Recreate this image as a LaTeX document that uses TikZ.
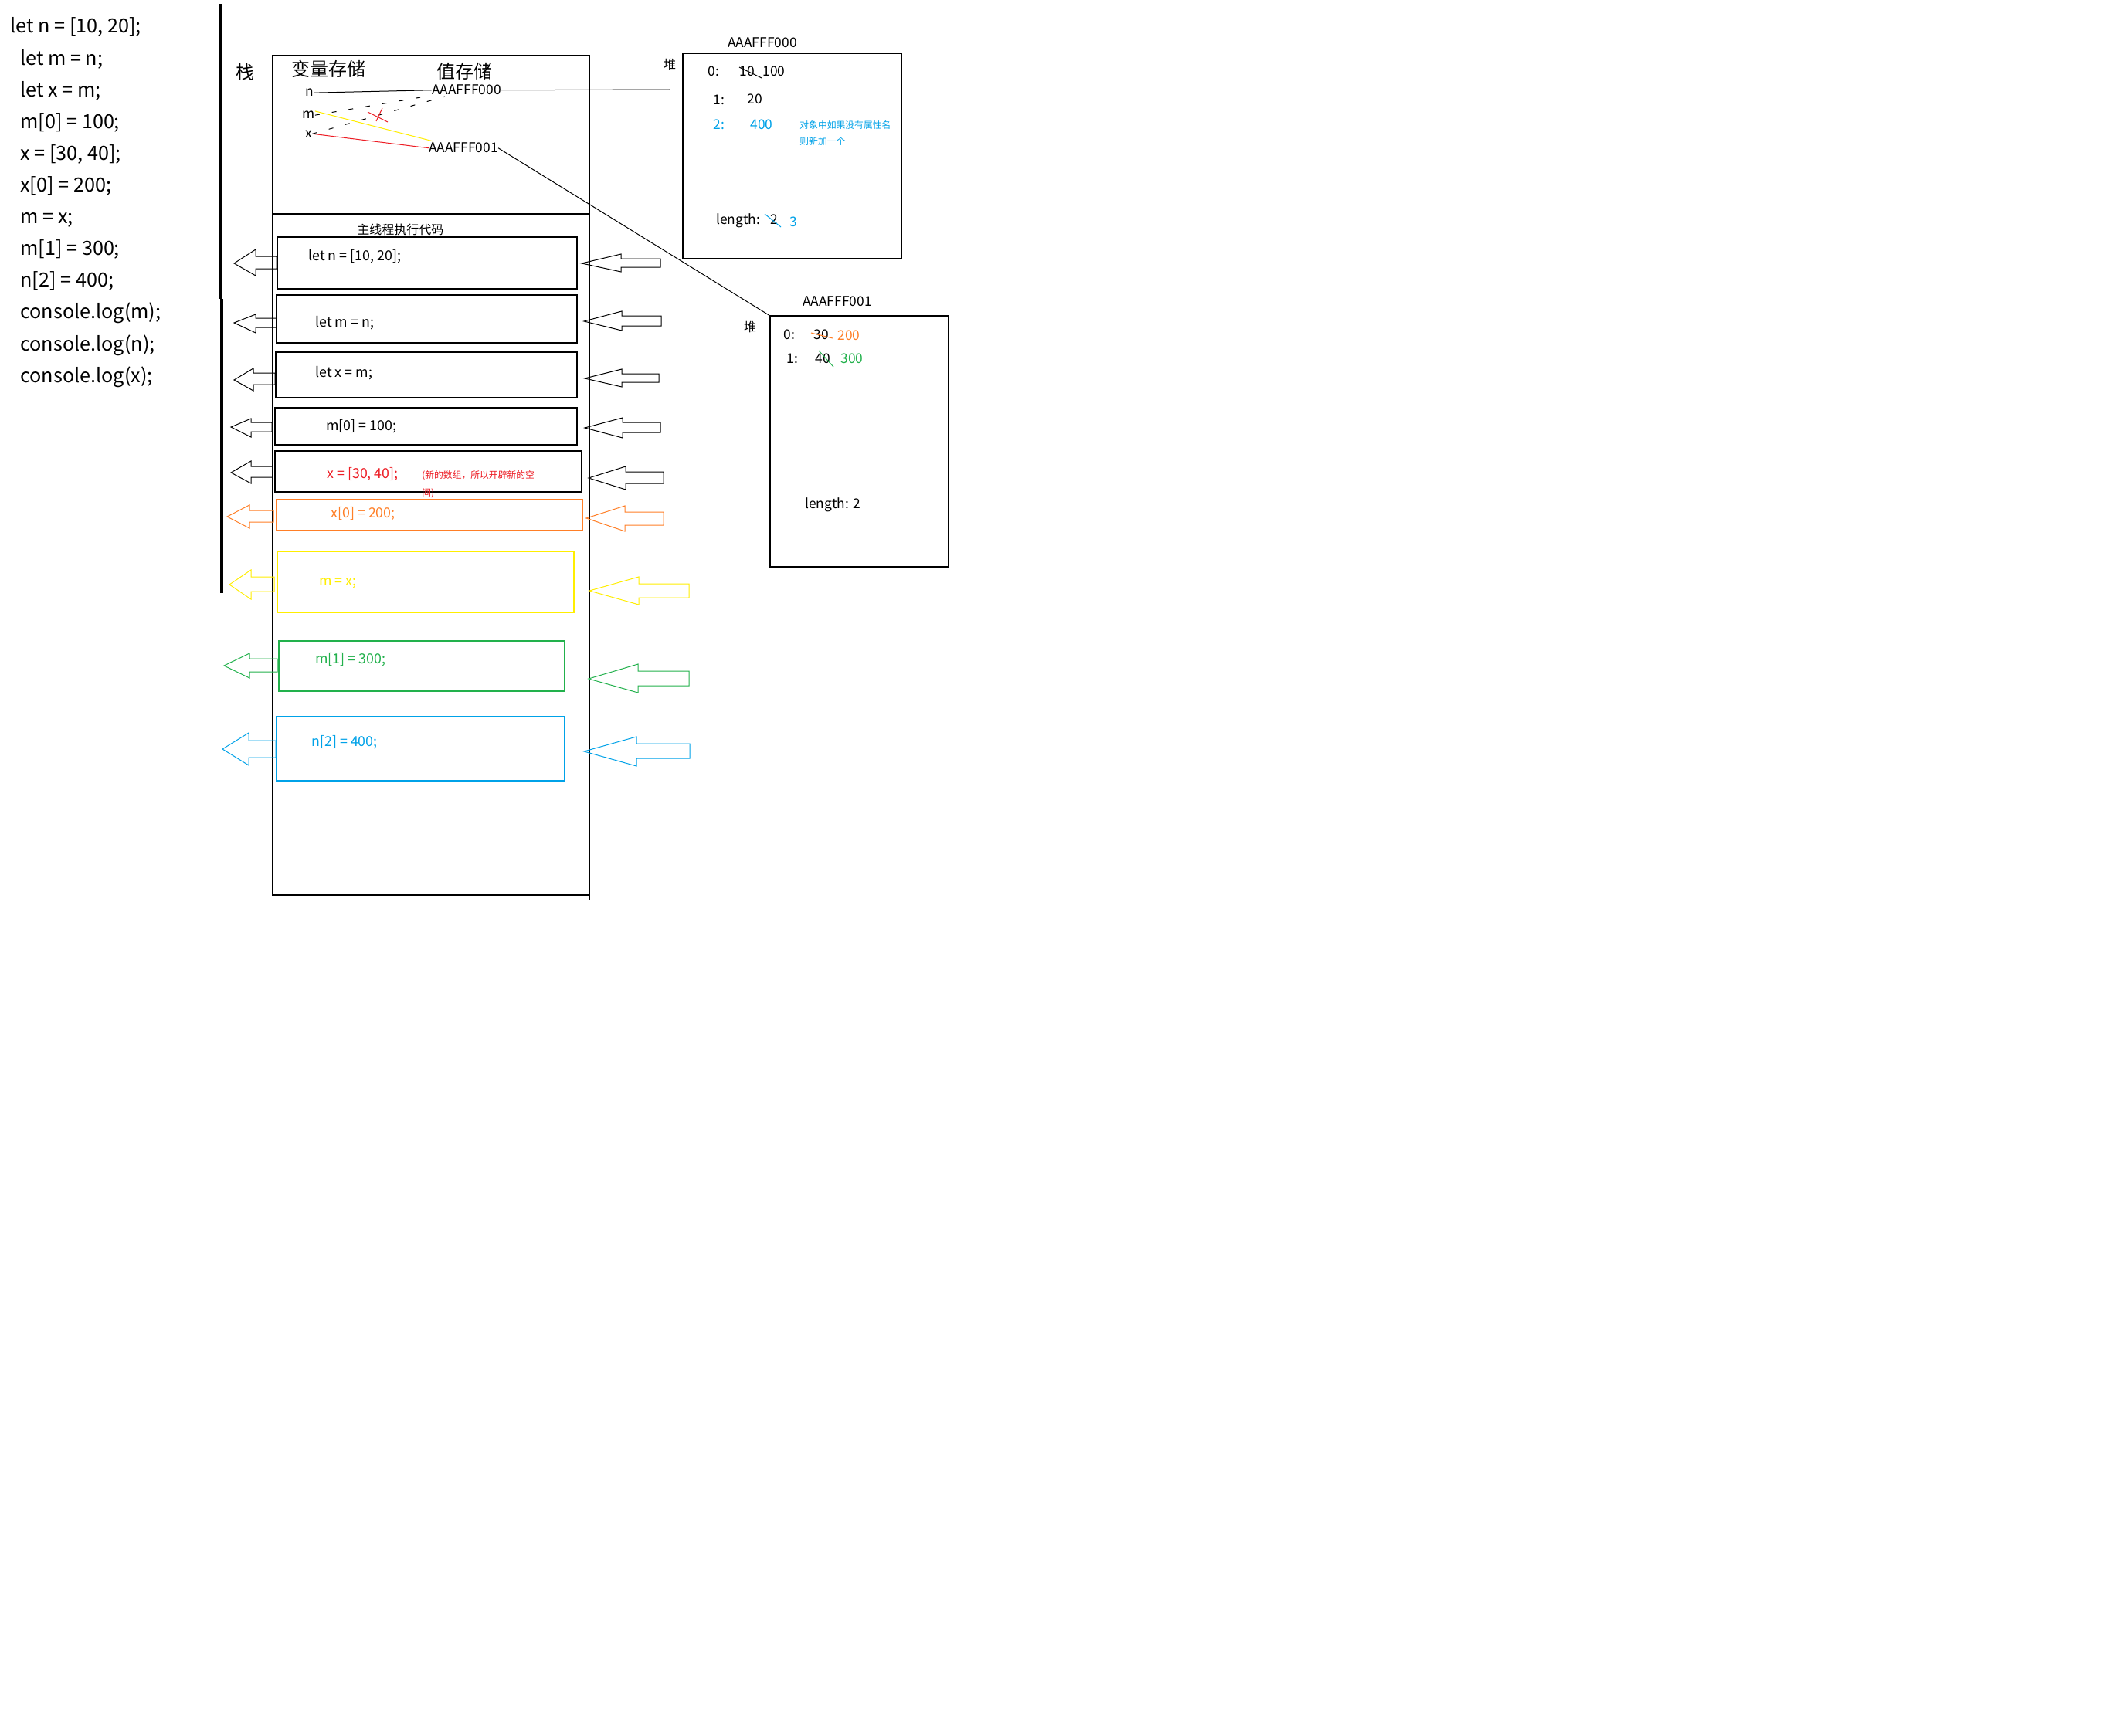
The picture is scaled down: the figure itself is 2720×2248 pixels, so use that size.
\documentclass[tikz,border=0pt]{standalone}
\usepackage{fontspec}
\setmainfont{Noto Sans CJK SC}
\definecolor{cOrange}{RGB}{255,127,39}
\definecolor{cYellow}{RGB}{255,238,0}
\definecolor{cGreen}{RGB}{34,177,76}
\definecolor{cBlue}{RGB}{0,162,232}
\definecolor{cRed}{RGB}{237,28,36}
\newcommand\blockarr[9]{\draw[#9] (#1,#2) -- (#3,#4) -- (#3,#6) -- (#8,#6) -- (#8,#7) -- (#3,#7) -- (#3,#5) -- cycle;}
\begin{document}
\begin{tikzpicture}[x=0.5pt,y=-0.5pt,
  txt/.style={inner sep=0pt,anchor=base west},
  codeL/.style={txt,font=\fontsize{12.6}{15}\selectfont},
  codeB/.style={txt,font=\fontsize{8.9}{11}\selectfont},
  lbl/.style={txt,font=\fontsize{8.7}{11}\selectfont},
  big/.style={txt,font=\fontsize{12}{14}\selectfont},
  note/.style={txt,font=\fontsize{5.9}{7}\selectfont},
  frame/.style={draw,line width=0.65pt},
  thin/.style={line width=0.5pt},
  dsh/.style={line width=0.5pt,dash pattern=on 3pt off 8pt},
  arr/.style={draw,line width=0.5pt,line join=miter}]
\useasboundingbox[fill=white] (0,0) rectangle (2720,2248);

% code listing
\node[codeL] (c1) at (13,43) {let n = [10, 20];};
\node[codeL] (c2) at (26,84.1) {let m = n;};
\node[codeL] (c3) at (26,125.2) {let x = m;};
\node[codeL] (c4) at (26,166.3) {m[0] = 100;};
\node[codeL] (c5) at (26,207.4) {x = [30, 40];};
\node[codeL] (c6) at (26,248.5) {x[0] = 200;};
\node[codeL] (c7) at (26,289.6) {m = x;};
\node[codeL] (c8) at (26,330.7) {m[1] = 300;};
\node[codeL] (c9) at (26,371.8) {n[2] = 400;};
\node[codeL] (c10) at (26,412.9) {console.log(m);};
\node[codeL] (c11) at (26,454) {console.log(n);};
\node[codeL] (c12) at (26,495.1) {console.log(x);};

% thick separator
\draw[line width=1.6pt] (286,5) -- (286,387);
\draw[line width=1.6pt] (287,387) -- (287,768);

% stack
\node[big] (zhan) at (305,103) {栈};
\draw[frame] (353,72) rectangle (763,1159);
\draw[frame] (763,1159) -- (763,1165);
\draw[frame] (353,277) -- (762,277);
\node[big] (varst) at (377,99) {变量存储};
\node[big] (valst) at (565,102) {值存储};

\node[lbl] (vn) at (395,125) {n};
\node[lbl] (vm) at (391,154) {m};
\node[lbl] (vx) at (395,178) {x};
\node[lbl] (sa0) at (559,123) {AAAFFF000};
\node[lbl] (sa1) at (555,198) {AAAFFF001};

\coordinate (h0end) at (867,116);
\coordinate (d1) at (576,125);
\coordinate (ye) at (561,183);
\coordinate (h2nw) at (997,409);

\draw[thin] (vn.east) -- (sa0.west);
\draw[thin] (sa0.east) -- (h0end);
\draw[dsh] (vm.east) -- (sa0.south west);
\draw[dsh] (vx.east) -- (d1);
\draw[thin,cYellow] (vm.north east) -- (ye);
\draw[thin,cRed] (vx.east) -- (sa1.west);
\draw[thin] (sa1.east) -- (h2nw);
\draw[thin,cRed] (476,145) -- (502,158);
\draw[thin,cRed] (495,140) -- (487,157);

\node[txt,font=\fontsize{8}{10}\selectfont] (mt) at (462,303) {主线程执行代码};

% code boxes
\draw[frame] (359,307) rectangle (747,374);
\draw[frame] (358,382) rectangle (747,444);
\draw[frame] (357,456) rectangle (747,515);
\draw[frame] (356,528) rectangle (747,576);
\draw[frame] (356,584) rectangle (753,637);
\draw[frame,cOrange] (358,647) rectangle (754,687);
\draw[frame,cYellow] (359,714) rectangle (743,793);
\draw[frame,cGreen] (361,830) rectangle (731,895);
\draw[frame,cBlue] (358,928) rectangle (731,1011);

\node[codeB] (b1) at (399,337) {let n = [10, 20];};
\node[codeB] (b2) at (408,423) {let m = n;};
\node[codeB] (b3) at (408,488) {let x = m;};
\node[codeB] (b4) at (422,557) {m[0] = 100;};
\node[codeB,text=cRed] (b5) at (423,619) {x = [30, 40];};
\node[note,text=cRed] (b5n1) at (546,619) {(新的数组，所以开辟新的空};
\node[note,text=cRed] (b5n2) at (546,642) {间)};
\node[codeB,text=cOrange] (b6) at (428,670) {x[0] = 200;};
\node[codeB,text=cYellow] (b7) at (413,758) {m = x;};
\node[codeB,text=cGreen] (b8) at (408,859) {m[1] = 300;};
\node[codeB,text=cBlue] (b9) at (403,966) {n[2] = 400;};

% left arrows
\blockarr{303}{341}{331}{323}{357}{332}{348}{358}{arr}
\blockarr{303}{418}{331}{407}{431}{412}{424}{358}{arr}
\blockarr{303}{492}{328}{477}{506}{483}{498}{356}{arr}
\blockarr{299}{553}{325}{542}{566}{547}{559}{352}{arr}
\blockarr{299}{612}{325}{597}{626}{604}{618}{353}{arr}
\blockarr{294}{669}{323}{654}{684}{661}{676}{354}{arr,cOrange}
\blockarr{297}{757}{325}{738}{776}{747}{766}{355}{arr,cYellow}
\blockarr{290}{862}{323}{846}{878}{853}{870}{359}{arr,cGreen}
\blockarr{288}{970}{322}{949}{991}{959}{981}{357}{arr,cBlue}

% right arrows
\blockarr{753}{341}{804}{329}{352}{335}{346}{855}{arr}
\blockarr{756}{416}{805}{403}{428}{409}{422}{856}{arr}
\blockarr{757}{490}{805}{478}{501}{484}{495}{853}{arr}
\blockarr{757}{554}{806}{541}{567}{547}{560}{855}{arr}
\blockarr{762}{619}{810}{604}{634}{611}{626}{859}{arr}
\blockarr{759}{671}{809}{655}{688}{663}{680}{859}{arr,cOrange}
\blockarr{763}{765}{827}{747}{783}{756}{774}{892}{arr,cYellow}
\blockarr{762}{879}{826}{860}{897}{869}{888}{892}{arr,cGreen}
\blockarr{756}{973}{824}{954}{992}{963}{982}{893}{arr,cBlue}

% heap 1
\node[txt,anchor=center,font=\fontsize{8}{10}\selectfont] (dui1) at (867,83) {堆};
\draw[frame] (884,69) rectangle (1167,335);
\node[lbl] (ha0) at (942,62) {AAAFFF000};
\node[lbl] (h1k0) at (916,99) {0:};
\node[lbl] (h1v0a) at (957,99) {10};
\node[lbl] (h1v0b) at (987,99) {100};
\draw[thin] (957,87) -- (986,101);
\node[lbl] (h1k1) at (923,135) {1:};
\node[lbl] (h1v1) at (967,134) {20};
\node[lbl,text=cBlue] (h1k2) at (923,168) {2:};
\node[lbl,text=cBlue] (h1v2) at (971,168) {400};
\node[note,text=cBlue] (h1n1) at (1035,166) {对象中如果没有属性名};
\node[note,text=cBlue] (h1n2) at (1035,187) {则新加一个};
\node[lbl] (h1len) at (927,290) {length:};
\node[lbl] (h1lv) at (997,290) {2};
\draw[thin,cBlue] (990,277) -- (1011,294);
\node[lbl,text=cBlue] (h1lv2) at (1022,293) {3};

% heap 2
\node[txt,anchor=center,font=\fontsize{8}{10}\selectfont] (dui2) at (971,423) {堆};
\draw[frame] (h2nw) rectangle (1228,734);
\node[lbl] (ha1) at (1039,396) {AAAFFF001};
\node[lbl] (h2k0) at (1014,439) {0:};
\node[lbl] (h2v0a) at (1053,439) {30};
\node[lbl,text=cOrange] (h2v0b) at (1084,440) {200};
\draw[thin,cOrange] (1050,431) -- (1078,438);
\node[lbl] (h2k1) at (1018,470) {1:};
\node[lbl] (h2v1a) at (1055,470) {40};
\node[lbl,text=cGreen] (h2v1b) at (1088,470) {300};
\draw[thin,cGreen] (1060,454) -- (1079,475);
\node[lbl] (h2len) at (1042,658) {length: 2};
\end{tikzpicture}
\end{document}
